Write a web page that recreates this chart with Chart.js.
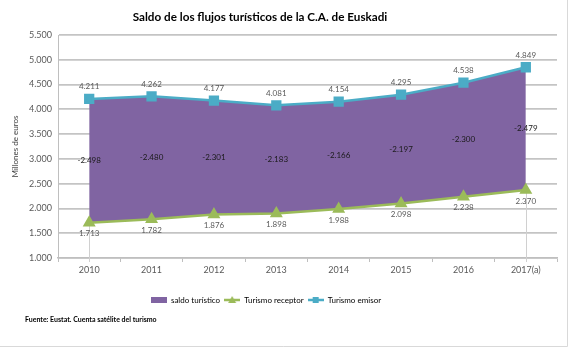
<!DOCTYPE html>
<html>
<head>
<meta charset="utf-8">
<script src="https://cdn.jsdelivr.net/npm/chart.js@4/dist/chart.umd.min.js"></script>
<style>
  html, body { margin: 0; padding: 0; background: #fff; }
  #wrap { width: 568px; height: 347px; position: relative; }
</style>
</head>
<body>
<div id="wrap"><canvas id="flujosChart"></canvas></div>
<script>
// Saldo de los flujos turísticos (millones de euros)
const years = ['2010', '2011', '2012', '2013', '2014', '2015', '2016', '2017(a)'];
const receptor = [1713, 1782, 1876, 1898, 1988, 2098, 2238, 2370];
const emisor = [4211, 4262, 4177, 4081, 4154, 4295, 4538, 4849];
const saldo = [-2498, -2480, -2301, -2183, -2166, -2197, -2300, -2479];
const yMin = 1000, yMax = 5500, yStep = 500;

const PURPLE = '#8064a2', GREEN = '#9bbb59', BLUE = '#4bacc6';
const FONT = 'Lato, "Liberation Sans", sans-serif';

// numbers with a dot as thousands separator
function fmt(v) {
  const s = String(Math.abs(Math.round(v))).replace(/\B(?=(\d{3})+(?!\d))/g, '.');
  return (v < 0 ? '-' : '') + s;
}

// legend icons
function iconBox(color) {
  const c = document.createElement('canvas');
  c.width = 16; c.height = 6;
  const g = c.getContext('2d');
  g.fillStyle = color;
  g.fillRect(0, 0, 16, 6);
  return c;
}
function iconLine(color, marker) {
  const c = document.createElement('canvas');
  c.width = 16; c.height = 8;
  const g = c.getContext('2d');
  g.strokeStyle = color; g.lineWidth = 2.5;
  g.beginPath(); g.moveTo(0, 4); g.lineTo(16, 4); g.stroke();
  g.fillStyle = color;
  if (marker === 'triangle') {
    g.beginPath(); g.moveTo(8, 0); g.lineTo(12, 7); g.lineTo(4, 7); g.closePath(); g.fill();
  } else {
    g.fillRect(5, 1, 6, 6);
  }
  return c;
}
const legendIcons = [iconBox(PURPLE), iconLine(GREEN, 'triangle'), iconLine(BLUE, 'rect')];
const LEGEND_SHIFT = -18;

// title, value labels, drop lines, footer
const extras = {
  id: 'extras',
  beforeDraw(chart) {
    // legend sits a bit left of the canvas centre
    if (chart.legend && !chart.legend._shifted) {
      chart.legend.left += LEGEND_SHIFT;
      chart.legend.right += LEGEND_SHIFT;
      chart.legend._shifted = true;
    }
  },
  beforeDatasetsDraw(chart) {
    const ctx = chart.ctx;
    const rec = chart.getDatasetMeta(1).data;
    const bottom = chart.chartArea.bottom;
    ctx.save();
    ctx.strokeStyle = '#d0d0d0';
    ctx.lineWidth = 1;
    [0, rec.length - 1].forEach(i => {
      const x = Math.round(rec[i].x) + 0.5;
      ctx.beginPath(); ctx.moveTo(x, rec[i].y); ctx.lineTo(x, bottom + 4); ctx.stroke();
    });
    ctx.restore();
  },
  afterDatasetsDraw(chart) {
    const ctx = chart.ctx;
    const y = chart.scales.y;
    const rec = chart.getDatasetMeta(1).data;
    const emi = chart.getDatasetMeta(2).data;
    ctx.save();
    ctx.font = '8px ' + FONT;
    ctx.textAlign = 'center';
    ctx.textBaseline = 'middle';
    ctx.fillStyle = '#595959';
    emi.forEach((p, i) => ctx.fillText(fmt(emisor[i]), p.x, p.y - 12));
    rec.forEach((p, i) => ctx.fillText(fmt(receptor[i]), p.x, p.y + 11));
    ctx.fillStyle = '#1a1a1a';
    rec.forEach((p, i) => {
      const mid = y.getPixelForValue(receptor[i] - saldo[i] / 2);
      ctx.fillText(fmt(saldo[i]), p.x, mid);
    });
    ctx.restore();
  },
  afterDraw(chart) {
    const ctx = chart.ctx;
    ctx.save();
    ctx.fillStyle = '#000';
    ctx.textBaseline = 'middle';
    ctx.textAlign = 'center';
    ctx.font = 'bold 11.7px ' + FONT;
    ctx.fillText('Saldo de los flujos turísticos de la C.A. de Euskadi', 260, 17);
    ctx.textAlign = 'left';
    ctx.font = 'bold 7px ' + FONT;
    ctx.fillText('Fuente: Eustat. Cuenta satélite del turismo', 25, 320);
    ctx.strokeStyle = '#d9d9d9';
    ctx.lineWidth = 1;
    ctx.beginPath();
    ctx.moveTo(567.5, 0); ctx.lineTo(567.5, 346.5); ctx.lineTo(0, 346.5);
    ctx.stroke();
    ctx.restore();
  }
};

new Chart(document.getElementById('flujosChart'), {
  type: 'line',
  data: {
    labels: years,
    datasets: [{
      label: 'saldo turístico',
      // top edge of the band = receptor minus saldo
      data: receptor.map((r, i) => r - saldo[i]),
      backgroundColor: PURPLE,
      borderWidth: 0,
      pointRadius: 0,
      fill: 1,
      tension: 0,
      order: 3
    }, {
      label: 'Turismo receptor',
      data: receptor,
      borderColor: GREEN,
      backgroundColor: GREEN,
      borderWidth: 2.5,
      pointStyle: 'triangle',
      pointRadius: 5,
      fill: false,
      order: 1
    }, {
      label: 'Turismo emisor',
      data: emisor,
      borderColor: BLUE,
      backgroundColor: BLUE,
      borderWidth: 2.5,
      pointStyle: 'rect',
      pointRadius: 5.5,
      fill: false,
      order: 2
    }]
  },
  options: {
    responsive: true,
    maintainAspectRatio: false,
    animation: false,
    events: [],
    layout: { padding: { left: 11, right: 11, top: 35, bottom: 33 } },
    plugins: {
      title: { display: false },
      legend: {
        position: 'bottom',
        labels: {
          usePointStyle: true,
          pointStyleWidth: 16,
          color: '#595959',
          font: { family: FONT, size: 8 },
          padding: 4,
          generateLabels(chart) {
            return chart.data.datasets.map((ds, i) => ({
              text: ds.label,
              pointStyle: legendIcons[i],
              fillStyle: 'transparent',
              strokeStyle: 'transparent',
              lineWidth: 0,
              datasetIndex: i
            }));
          }
        }
      },
      tooltip: { enabled: false }
    },
    scales: {
      x: {
        offset: true,
        grid: { offset: true, drawOnChartArea: false, tickLength: 4, color: '#bfbfbf', lineWidth: 1 },
        border: { color: '#bfbfbf', width: 1.5 },
        ticks: { color: '#595959', font: { family: FONT, size: 9 }, padding: 3 },
        afterFit(scale) { scale.height = 34; }
      },
      y: {
        min: yMin,
        max: yMax,
        ticks: {
          stepSize: yStep,
          color: '#595959',
          font: { family: FONT, size: 9 },
          padding: 6,
          callback: v => fmt(v)
        },
        grid: { color: '#c4c4c4', lineWidth: 1.8, drawTicks: false },
        border: { color: '#bfbfbf', width: 1 },
        title: {
          display: true,
          text: 'Millones de euros',
          color: '#404040',
          font: { family: FONT, size: 8 },
          padding: { top: 0, bottom: 4 }
        },
        afterFit(scale) { scale.width = 47; }
      }
    }
  },
  plugins: [extras]
});
</script>
</body>
</html>
